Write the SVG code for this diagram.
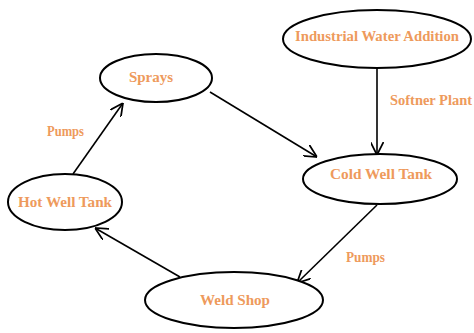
<svg xmlns="http://www.w3.org/2000/svg" width="474" height="333" viewBox="0 0 474 333">
<style>
.n{fill:#fff;stroke:#000;stroke-width:2}
.t{font-family:"Liberation Serif","Times New Roman",serif;font-weight:bold;font-size:14px;fill:#ee9a5c;text-anchor:middle;dominant-baseline:central}
.c{stroke:#000;stroke-width:1.6;fill:none;marker-end:url(#a)}
</style>
<defs>
<marker id="a" viewBox="0 0 12 12" refX="12" refY="6" markerWidth="13" markerHeight="13" markerUnits="userSpaceOnUse" orient="auto">
<path d="M0,0 L12,6 L0,12" fill="none" stroke="#000" stroke-width="1.6"/>
</marker>
</defs>
<rect width="474" height="333" fill="#fff"/>
<g id="connectors">
<line class="c" x1="377" y1="68" x2="377" y2="155"/>
<line class="c" x1="210" y1="92" x2="317" y2="157"/>
<line class="c" x1="73" y1="174" x2="123" y2="103"/>
<line class="c" x1="180" y1="277" x2="95" y2="228"/>
<line class="c" x1="377" y1="205" x2="297" y2="283"/>
<text class="t" x="65.5" y="131" textLength="37" lengthAdjust="spacingAndGlyphs">Pumps</text>
<text class="t" x="390" y="100" style="text-anchor:start" textLength="82" lengthAdjust="spacingAndGlyphs">Softner Plant</text>
<text class="t" x="365.5" y="257" textLength="39" lengthAdjust="spacingAndGlyphs">Pumps</text>
</g>
<g id="industrial">
<ellipse class="n" cx="377" cy="39" rx="94" ry="29"/>
<text class="t" x="377" y="36" textLength="164" lengthAdjust="spacingAndGlyphs">Industrial Water Addition</text>
</g>
<g id="sprays">
<ellipse class="n" cx="156" cy="78" rx="56" ry="24"/>
<text class="t" x="151" y="77" textLength="44" lengthAdjust="spacingAndGlyphs">Sprays</text>
</g>
<g id="coldwell">
<ellipse class="n" cx="380" cy="179" rx="77" ry="25"/>
<text class="t" x="381" y="174" textLength="102" lengthAdjust="spacingAndGlyphs">Cold Well Tank</text>
</g>
<g id="hotwell">
<ellipse class="n" cx="65" cy="202" rx="57" ry="28"/>
<text class="t" x="65" y="202" textLength="94" lengthAdjust="spacingAndGlyphs">Hot Well Tank</text>
</g>
<g id="weldshop">
<ellipse class="n" cx="234" cy="300" rx="89" ry="28"/>
<text class="t" x="235" y="300" textLength="70" lengthAdjust="spacingAndGlyphs">Weld Shop</text>
</g>
</svg>
